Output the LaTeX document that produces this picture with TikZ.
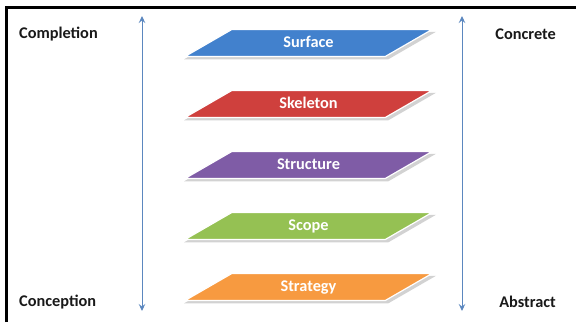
\documentclass[tikz,border=0pt]{standalone}
\usepackage{fontspec}
\setmainfont{Carlito}
\usetikzlibrary{positioning, shapes.geometric, arrows.meta, shadows}

\definecolor{surfaceblue}{HTML}{4281CD}
\definecolor{skeletonred}{HTML}{CF403D}
\definecolor{structurepurple}{HTML}{7F5CA6}
\definecolor{scopegreen}{HTML}{95C153}
\definecolor{strategyorange}{HTML}{F79A40}
\definecolor{axisblue}{HTML}{5B87BF}

\begin{document}
\begin{tikzpicture}[x=1pt, y=-1pt, node distance=34pt,
    font=\bfseries\fontsize{16.3}{19}\selectfont]
        % Styles
        \tikzstyle{layer} = [trapezium, trapezium left angle=30,
            trapezium right angle=150, trapezium stretches body,
            text height=11pt, text depth=3pt, inner ysep=6.5pt, inner xsep=0pt,
            minimum width=247pt, outer sep=0pt,
            text=white, draw=white, line width=1.2pt,
            drop shadow={shadow xshift=1.5pt, shadow yshift=-2.5pt,
                shadow scale=1.02, fill=gray!35, opacity=1}]
        \tikzstyle{side} = [text=black!90, inner sep=0pt]
        \tikzstyle{line} = [draw, axisblue, line width=1pt,
            {Stealth[length=7pt, width=6.5pt, inset=2.5pt]}-{Stealth[length=7pt, width=6.5pt, inset=2.5pt]}]

        \useasboundingbox (0,0) rectangle (576,322);
        \draw[line width=2.6pt] (6.5,322) -- (6.5,7.5) -- (576,7.5);

        % Nodes
        \node [layer, fill=surfaceblue] (surface) at (308.5,43) {Surface};
        \node [layer, fill=skeletonred, below=of surface] (skeleton) {Skeleton};
        \node [layer, fill=structurepurple, below=of skeleton] (structure) {Structure};
        \node [layer, fill=scopegreen, below=of structure] (scope) {Scope};
        \node [layer, fill=strategyorange, below=of scope] (strategy) {Strategy};

        \node [side, anchor=west] (completion) at (19,34) {Completion};
        \node [side, anchor=west] (conception) at (19,302) {Conception};
        \node [side, anchor=east] (concrete) at (556,34) {Concrete};
        \node [side, anchor=east] (abstract) at (556,302) {Abstract};

        \coordinate (lefttop) at (142,16);
        \coordinate (leftbottom) at (142,311);
        \coordinate (righttop) at (462,16);
        \coordinate (rightbottom) at (462,311);

        % Connections
        \path [line] (lefttop) -- (leftbottom);
        \path [line] (righttop) -- (rightbottom);
    \end{tikzpicture}
\end{document}
